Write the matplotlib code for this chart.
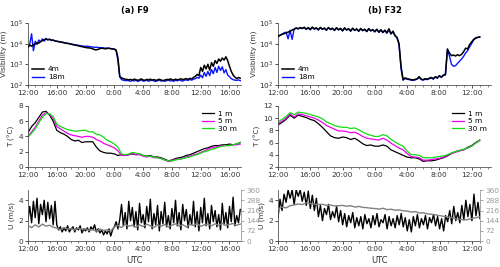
import numpy as np
import matplotlib
matplotlib.use("Agg")
import matplotlib.pyplot as plt
from matplotlib.ticker import FixedLocator, MultipleLocator, LogLocator, NullLocator

# ---------------- data ----------------
tick_labels_a = ["12:00", "16:00", "20:00", "0:00", "4:00", "8:00", "12:00", "16:00"]
tick_labels_b = ["12:00", "16:00", "20:00", "0:00", "4:00", "8:00", "12:00"]

# Panel (a) F9 - visibility (m), 15-min samples from 12:00
vis4_a = [7000, 8500, 7500, 9000, 9500, 11000, 10500, 12500, 14000, 15500, 16500, 15500,
          16000, 15000, 14500, 13500, 13000, 12500, 12000, 11500, 11000, 10500, 10200, 9800,
          9300, 8900, 8500, 8200, 7800, 7400, 7100, 6800, 6500, 6300, 6200, 6000,
          5600, 5100, 5000, 5300, 5700, 6000, 5800, 5600, 5800, 6000, 5700, 5600,
          5400, 4900, 2000, 250, 220, 200, 190, 185,
          175, 185, 170, 190, 180, 165, 178, 195, 172, 168, 185, 176, 190, 170, 182, 165,
          175, 188, 172, 160, 170, 185, 178, 195, 182, 170, 190, 176, 185, 198, 180, 192,
          200, 185, 210, 195, 230, 260, 320, 280, 700, 450, 900, 600, 1000, 520, 1200, 800,
          1500, 1100, 1800, 1400, 2000, 1600, 2300, 1500, 800, 450, 300, 240, 200, 230, 210]
vis18_a = [6000, 9500, 30000, 4500, 13000, 9000, 15000, 12000, 17000, 13000, 18000, 15000,
           16500, 14000, 15000, 13500, 13000, 12500, 12000, 11800, 11200, 10800, 10400, 10000,
           9600, 9200, 8800, 8600, 8300, 8000, 7700, 7500, 7300, 7600, 7200, 7000,
           6800, 6600, 6700, 6500, 6400, 6300, 6200, 6000, 6100, 5900, 5700, 5500,
           5300, 4500, 1500, 250, 180, 170, 160, 165,
           160, 150, 165, 155, 170, 148, 160, 175, 152, 158, 168, 150, 162, 172, 155, 148,
           160, 170, 152, 165, 150, 160, 172, 155, 163, 150, 168, 158, 175, 162, 152, 170,
           175, 165, 185, 170, 190, 200, 230, 210, 300, 220, 400, 260, 450, 280, 550, 350,
           700, 400, 800, 500, 750, 380, 550, 300, 250, 200, 180, 170, 165, 175, 160]

# Panel (a) temperature (deg C), 30-min samples
t1_a = [4.5, 5.3, 5.8, 6.5, 7.2, 7.3, 6.8, 6.0, 4.8, 4.5,
        4.3, 4.0, 3.6, 3.4, 3.5, 3.2, 3.3, 3.3, 3.3, 2.6,
        2.1, 1.9, 1.8, 1.8, 1.7, 1.5, 1.6, 1.5, 1.6, 1.7,
        1.6, 1.7, 1.5, 1.4, 1.5, 1.3, 1.3, 1.2, 1.0, 0.8,
        0.9, 1.1, 1.2, 1.3, 1.5, 1.6, 1.8, 2.0, 2.2, 2.4,
        2.5, 2.7, 2.8, 2.8, 2.9, 2.9, 3.0, 2.9, 3.0, 3.2]
t5_a = [4.0, 4.6, 5.2, 6.0, 6.8, 7.1, 6.9, 6.4, 5.3, 5.0,
        4.7, 4.4, 4.2, 4.1, 4.0, 3.9, 4.0, 4.0, 3.9, 3.6,
        3.4, 3.1, 2.9, 2.7, 2.5, 2.1, 1.5, 1.5, 1.6, 1.8,
        1.6, 1.6, 1.4, 1.3, 1.4, 1.2, 1.2, 1.1, 0.9, 0.7,
        0.8, 1.0, 1.0, 1.1, 1.3, 1.4, 1.6, 1.7, 1.9, 2.1,
        2.3, 2.5, 2.6, 2.7, 2.8, 2.8, 2.8, 2.9, 2.9, 3.0]
t30_a = [3.9, 4.4, 5.0, 5.8, 6.5, 7.0, 7.0, 6.6, 5.6, 5.3,
         5.1, 4.9, 4.8, 4.7, 4.7, 4.8, 4.8, 4.6, 4.6, 4.3,
         4.2, 3.9, 3.5, 3.3, 3.0, 2.6, 1.7, 1.6, 1.7, 1.9,
         1.8, 1.7, 1.5, 1.4, 1.4, 1.3, 1.2, 1.1, 0.9, 0.8,
         0.8, 0.9, 1.0, 1.1, 1.2, 1.3, 1.5, 1.6, 1.8, 2.0,
         2.1, 2.3, 2.4, 2.6, 2.7, 2.8, 2.8, 2.9, 3.0, 3.2]

# Panel (a) wind speed (m/s), 15-min samples; direction (deg), 30-min samples
u_a = [2.1, 3.4, 1.8, 3.9, 2.3, 4.2, 1.7, 3.6, 2.6, 4.0, 1.9, 3.8, 2.2, 3.5, 1.6, 3.9,
       1.6, 1.1, 1.4, 0.9, 1.3, 1.0, 1.5, 0.9, 1.2, 1.4, 0.9, 1.3, 1.1, 1.5, 0.8, 1.2,
       1.0, 1.3, 0.9, 1.4, 1.1, 1.6, 0.9, 1.2,
       0.8, 1.1, 0.6, 1.0, 0.7, 1.2, 0.5, 1.1,
       1.4, 1.9, 1.2, 2.1,
       3.6, 1.5, 2.8, 1.2, 3.9, 2.0, 3.3, 1.4, 2.9, 1.1, 3.7, 1.8, 2.6, 1.3, 3.4, 1.9,
       4.1, 1.2, 2.7, 1.6, 3.5, 1.0, 2.9, 1.7, 3.8, 1.4, 2.5, 1.2, 3.2, 1.8, 4.0, 1.5,
       2.8, 1.1, 3.6, 2.0, 3.1, 1.3, 2.6, 1.6, 3.9, 1.4, 2.9, 1.0, 3.3, 1.8, 4.2, 1.5,
       2.7, 1.2, 3.5, 1.9, 3.0, 1.4, 2.6, 1.1, 3.7, 1.6, 2.8, 1.3, 3.4, 1.9, 4.3, 1.5,
       2.5, 1.8, 3.1]
dir_a = [110, 95, 115, 100, 120, 105, 112, 98,
         92, 80, 95, 85, 88, 78, 90, 84, 86, 76, 82, 70, 85, 75, 80, 72,
         100, 110, 95, 118, 105, 112, 98, 115, 102, 120, 108, 96, 115, 104, 118, 100,
         112, 122, 105, 116, 100, 118, 110, 125, 104, 115, 120, 108, 122, 112, 126, 110,
         118, 124, 112, 120]

# Panel (b) F32 - visibility (m), 15-min samples
vis4_b = [22000, 25000, 28000, 30000, 33000, 36000, 40000, 45000, 50000, 58000, 52000, 60000,
          55000, 62000, 50000, 60000, 48000, 63000, 52000, 58000, 47000, 61000, 50000, 57000,
          45000, 60000, 49000, 56000, 44000, 59000, 47000, 55000, 42000, 58000, 46000, 53000,
          41000, 56000, 44000, 52000, 40000, 54000, 43000, 50000, 39000, 53000, 42000, 48000,
          38000, 50000, 36000, 47000, 35000, 45000, 33000, 52000, 30000, 40000, 25000, 20000,
          10000, 800, 180, 220, 200, 190, 180, 175, 185, 200, 250, 190,
          180, 200, 190, 210, 230, 200, 250, 220, 280, 240, 300, 320,
          5500, 3500, 2600, 2800, 2500, 2900, 2600, 3000, 4000, 6000, 5500, 9000,
          12000, 16000, 19000, 20000, 21000]
vis18_b = [22000, 26000, 29000, 33000, 36000, 17000, 44000, 16000, 50000, 55000, 52000, 58000,
           53000, 60000, 49000, 58000, 47000, 61000, 50000, 56000, 46000, 59000, 49000, 55000,
           44000, 58000, 48000, 54000, 43000, 57000, 46000, 53000, 41000, 56000, 45000, 51000,
           40000, 54000, 43000, 50000, 39000, 52000, 42000, 48000, 38000, 51000, 41000, 46000,
           37000, 48000, 35000, 45000, 34000, 43000, 32000, 48000, 29000, 38000, 24000, 19000,
           9000, 600, 170, 200, 190, 180, 170, 165, 175, 190, 230, 180,
           170, 190, 180, 200, 220, 190, 240, 210, 270, 230, 290, 300,
           5000, 2500, 1000, 800, 850, 1100, 1400, 1800, 2400, 3500, 4500, 7000,
           10000, 15000, 18000, 20000, 21000]

# Panel (b) temperature (deg C), 30-min samples
t1_b = [8.9, 9.3, 9.8, 10.5, 10.0, 10.5, 10.3, 10.1, 9.8, 9.6,
        9.1, 8.5, 7.8, 7.1, 6.8, 6.7, 6.9, 6.8, 6.5, 6.7,
        6.3, 5.8, 5.5, 5.6, 5.4, 5.4, 5.6, 5.4, 4.8, 4.5,
        4.2, 3.9, 3.6, 3.5, 3.5, 3.3, 2.9, 3.0, 3.0, 3.1,
        3.3, 3.5, 3.8, 4.2, 4.5, 4.7, 4.8, 5.2, 5.5, 6.0, 6.4]
t5_b = [9.1, 9.5, 10.0, 10.7, 10.2, 10.7, 10.6, 10.4, 10.2, 10.0,
        9.7, 9.3, 8.8, 8.5, 8.2, 7.9, 7.9, 7.8, 7.6, 7.7,
        7.4, 7.0, 6.7, 6.6, 6.5, 6.4, 6.7, 6.4, 5.9, 5.5,
        5.1, 4.8, 4.2, 3.7, 3.6, 3.5, 3.1, 3.1, 3.2, 3.3,
        3.4, 3.6, 3.9, 4.2, 4.4, 4.6, 4.8, 5.1, 5.4, 5.9, 6.3]
t30_b = [9.4, 9.8, 10.3, 10.9, 10.6, 11.0, 10.9, 10.8, 10.6, 10.4,
         10.2, 9.9, 9.4, 9.1, 8.8, 8.6, 8.5, 8.5, 8.3, 8.4,
         8.1, 7.7, 7.4, 7.2, 7.0, 7.0, 7.3, 7.1, 6.5, 6.1,
         5.7, 5.4, 4.6, 4.0, 4.0, 3.9, 3.5, 3.5, 3.5, 3.6,
         3.7, 3.8, 4.0, 4.3, 4.5, 4.7, 4.9, 5.1, 5.4, 5.9, 6.4]

# Panel (b) wind speed (m/s), 15-min samples; direction (deg), 30-min samples
u_b = [2.3, 4.1, 3.0, 4.6,
       3.8, 5.0, 4.2, 5.0, 3.6, 5.0, 4.4, 5.0, 3.9, 4.8, 3.5, 4.9,
       3.2, 4.5, 3.0, 4.2,
       2.4, 3.5, 2.0, 3.2, 2.6, 3.6, 2.1, 2.9, 2.3, 3.4, 1.9, 3.0,
       1.6, 2.7, 1.4, 2.5, 1.8, 2.8, 1.3, 2.3,
       1.5, 2.4, 1.2, 2.6, 1.7, 2.2, 1.3, 2.5, 1.6, 2.7, 1.4, 2.1, 1.8, 2.6, 1.2, 2.4,
       1.5, 2.2, 1.3, 2.5,
       1.6, 2.7, 1.4, 2.3, 1.0, 2.1, 0.9, 2.4, 1.5, 2.6, 1.3, 2.2, 1.6, 2.5, 1.2, 2.3,
       1.8, 2.6, 1.5, 2.4, 1.2, 2.2, 1.0, 2.5,
       1.9, 3.0, 1.7, 3.4, 2.0, 2.8, 1.8, 3.5,
       2.1, 4.0, 2.4, 3.6, 2.0, 4.6, 2.5, 3.8, 2.2]
dir_b = [225, 240, 235, 250, 255, 262, 258, 270,
         265, 262, 258, 260, 252, 255, 248, 250, 252, 246, 250, 240, 245, 238, 236, 232,
         230, 226, 232, 222, 225, 218, 220, 214, 212, 205, 208, 198, 200, 192, 190, 185,
         180, 175, 170, 165, 158, 155, 150, 152, 160, 165, 172]

# ---------------- figure ----------------
plt.rcParams['font.family'] = ['DejaVu Sans']
FS = 5.3
fig = plt.figure(figsize=(5.0, 2.67), dpi=100)

def hours(vals, step):
    return np.arange(len(vals)) * step

def style(ax, xmax, labels):
    ax.set_xlim(0, xmax)
    ax.xaxis.set_major_locator(FixedLocator(np.arange(len(labels)) * 4.0))
    ax.set_xticklabels(labels)
    ax.xaxis.set_minor_locator(MultipleLocator(1))
    ax.tick_params(axis='both', which='major', labelsize=FS, length=2.5, width=0.6, pad=1.2,
                   colors='#333333')
    ax.tick_params(axis='x', which='minor', length=1.5, width=0.5, colors='#555555')
    ax.spines['top'].set_visible(False)
    ax.spines['right'].set_visible(False)
    for s in ('left', 'bottom'):
        ax.spines[s].set_linewidth(0.6)
        ax.spines[s].set_color('#555555')

cols = [
    dict(x0=0.056, w=0.426, wb=0.426, xmax=29.6, labels=tick_labels_a, title="(a) F9",
         vis4=vis4_a, vis18=vis18_a, t1=t1_a, t5=t5_a, t30=t30_a, u=u_a, d=dir_a,
         tlim=(0, 8), tticks=[0, 2, 4, 6, 8], xmaxb=29.6),
    dict(x0=0.556, w=0.426, wb=0.404, xmax=26.4, labels=tick_labels_b, title="(b) F32",
         vis4=vis4_b, vis18=vis18_b, t1=t1_b, t5=t5_b, t30=t30_b, u=u_b, d=dir_b,
         tlim=(2, 12), tticks=[2, 4, 6, 8, 10, 12], xmaxb=25.0),
]

for c in cols:
    # visibility
    ax1 = fig.add_axes([c['x0'], 0.682, c['w'], 0.232])
    ax1.plot(hours(c['vis18'], 0.25), c['vis18'], color='#0a14ff', lw=1.0, label='18m', zorder=2)
    ax1.plot(hours(c['vis4'], 0.25), c['vis4'], color='black', lw=1.1, label='4m', zorder=3)
    ax1.set_yscale('log')
    ax1.set_ylim(100, 100000)
    ax1.yaxis.set_major_locator(LogLocator(base=10, numticks=5))
    ax1.yaxis.set_minor_locator(NullLocator())
    style(ax1, c['xmax'], c['labels'])
    ax1.set_ylabel("Visibility (m)", fontsize=FS, labelpad=1, color='#333333')
    h, l = ax1.get_legend_handles_labels()
    ax1.legend(h[::-1], l[::-1], loc='lower left', fontsize=FS, frameon=False,
               handlelength=1.6, handletextpad=0.5, borderaxespad=0.2, labelspacing=0.3)
    ax1.set_title(c['title'], fontsize=6, fontweight='bold', pad=7)

    # temperature
    ax2 = fig.add_axes([c['x0'], 0.375, c['w'], 0.228])
    ax2.plot(hours(c['t1'], 0.5), c['t1'], color='black', lw=0.9, label='1 m')
    ax2.plot(hours(c['t5'], 0.5), c['t5'], color='#ee00ee', lw=0.9, label='5 m')
    ax2.plot(hours(c['t30'], 0.5), c['t30'], color='#11dd11', lw=0.9, label='30 m')
    ax2.set_ylim(*c['tlim'])
    ax2.set_yticks(c['tticks'])
    style(ax2, c['xmax'], c['labels'])
    ax2.set_ylabel("T (°C)", fontsize=FS, labelpad=2, color='#333333')
    ax2.legend(loc='upper right', fontsize=FS, frameon=False, handlelength=1.6,
               handletextpad=0.5, borderaxespad=0.2, labelspacing=0.2)

    # wind
    ax3 = fig.add_axes([c['x0'], 0.097, c['wb'], 0.191])
    ax3.plot(hours(c['u'], 0.25), c['u'], color='black', lw=1.0)
    ax3.set_ylim(0, 5)
    ax3.set_yticks([0, 2, 4])
    style(ax3, c['xmaxb'], c['labels'])
    ax3.set_ylabel("U (m/s)", fontsize=FS, labelpad=2, color='#333333')
    ax3.set_xlabel("UTC", fontsize=6, labelpad=3, color='#333333')
    axr = ax3.twinx()
    axr.plot(hours(c['d'], 0.5), c['d'], color='#808080', lw=1.0)
    axr.set_ylim(0, 360)
    axr.set_yticks([0, 72, 144, 216, 288, 360])
    axr.set_xlim(0, c['xmaxb'])
    axr.tick_params(axis='y', labelsize=FS, length=2.5, width=0.6, pad=1.2, colors='#999999')
    for s in ('top', 'left', 'bottom'):
        axr.spines[s].set_visible(False)
    axr.spines['right'].set_color('#999999')
    axr.spines['right'].set_linewidth(0.6)

fig.savefig("out.png", dpi=100)
